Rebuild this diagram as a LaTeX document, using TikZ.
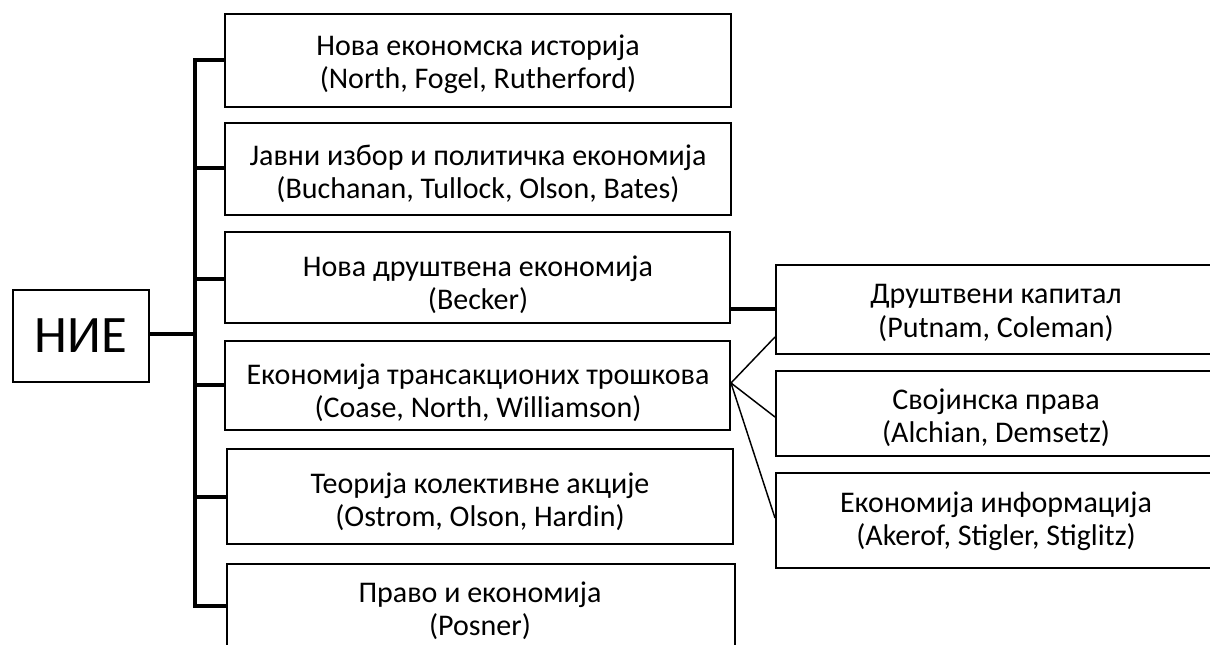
\documentclass[tikz,border=0pt]{standalone}
\usepackage{fontspec}
\setmainfont{Carlito}
\begin{document}
\begin{tikzpicture}[x=0.75pt,y=-0.75pt,
  box/.style={draw=black, line width=1.5pt, inner sep=0pt, fill=none},
  txt/.style={align=center, font=\fontsize{22.5pt}{25pt}\selectfont, inner sep=0pt},
  bigtxt/.style={font=\fontsize{39.5pt}{44pt}\selectfont, inner sep=0pt},
  trunkline/.style={line width=2.5pt},
  thin line/.style={line width=1.1pt}
]
\useasboundingbox (0,0) rectangle (1210,645);
\clip (0,0) rectangle (1210,645);
% root
\node[box, minimum width=102pt, minimum height=69pt] (nie) at (81,336) {};
\node[bigtxt] (nietxt) at (81,336) {НИЕ};
% left boxes
\node[box, minimum width=379.5pt, minimum height=69.75pt] (b1) at (478,60.5) {};
\node[box, minimum width=379.5pt, minimum height=69pt] (b2) at (478,169) {};
\node[box, minimum width=378.75pt, minimum height=68.25pt] (b3) at (477.5,277.5) {};
\node[box, minimum width=378.75pt, minimum height=66.75pt] (b4) at (477.5,385.5) {};
\node[box, minimum width=379.5pt, minimum height=71.25pt] (b5) at (480,496.5) {};
\node[box, minimum width=381pt, minimum height=87pt] (b6) at (481,622) {};
% right boxes
\node[box, minimum width=333pt, minimum height=66.75pt] (r1) at (998,309.5) {};
\node[box, minimum width=333pt, minimum height=63.75pt] (r2) at (998,413.5) {};
\node[box, minimum width=333pt, minimum height=71.25pt] (r3) at (998,520.5) {};
% texts
\node[txt] (t1) at (478,64) {Нова економска историја\\(North, Fogel, Rutherford)};
\node[txt] (t2) at (478,174) {Јавни избор и политичка економија\\(Buchanan, Tullock, Olson, Bates)};
\node[txt] (t3) at (478,285) {Нова друштвена економија\\(Becker)};
\node[txt] (t4) at (478,393) {Економија трансакционих трошкова\\(Coase, North, Williamson)};
\node[txt] (t5) at (480,502) {Теорија колективне акције\\(Ostrom, Olson, Hardin)};
\node[txt] (t6) at (480,611) {Право и економија\\(Posner)};
\node[txt] (tr1) at (996,313) {Друштвени капитал\\(Putnam, Coleman)};
\node[txt] (tr2) at (996,418) {Својинска права\\(Alchian, Demsetz)};
\node[txt] (tr3) at (996,521) {Економија информација\\(Akerof, Stigler, Stiglitz)};
% trunk
\coordinate (k1) at (195,60);
\coordinate (k2) at (195,168);
\coordinate (k3) at (195,279);
\coordinate (k4) at (195,385);
\coordinate (k5) at (195,497);
\coordinate (k6) at (195,606);
\coordinate (kn) at (195,334);
\draw[trunkline] (b1.west |- k1) -- (k1) -- (k6) -- (b6.west |- k6);
\draw[trunkline] (k2) -- (b2.west |- k2);
\draw[trunkline] (k3) -- (b3.west |- k3);
\draw[trunkline] (k4) -- (b4.west |- k4);
\draw[trunkline] (k5) -- (b5.west |- k5);
\draw[trunkline] (nie.east |- kn) -- (kn);
% b3 to r1
\coordinate (h) at (750,309);
\draw[line width=2.4pt] (b3.east |- h) -- (r1.west |- h);
% fan from b4
\coordinate (f0) at (730,383);
\coordinate (f1) at (776,337);
\coordinate (f2) at (776,417);
\coordinate (f3) at (776,518);
\draw[thin line] (b4.east |- f0) -- (r1.west |- f1);
\draw[thin line] (b4.east |- f0) -- (r2.west |- f2);
\draw[thin line] (b4.east |- f0) -- (r3.west |- f3);
\end{tikzpicture}
\end{document}
